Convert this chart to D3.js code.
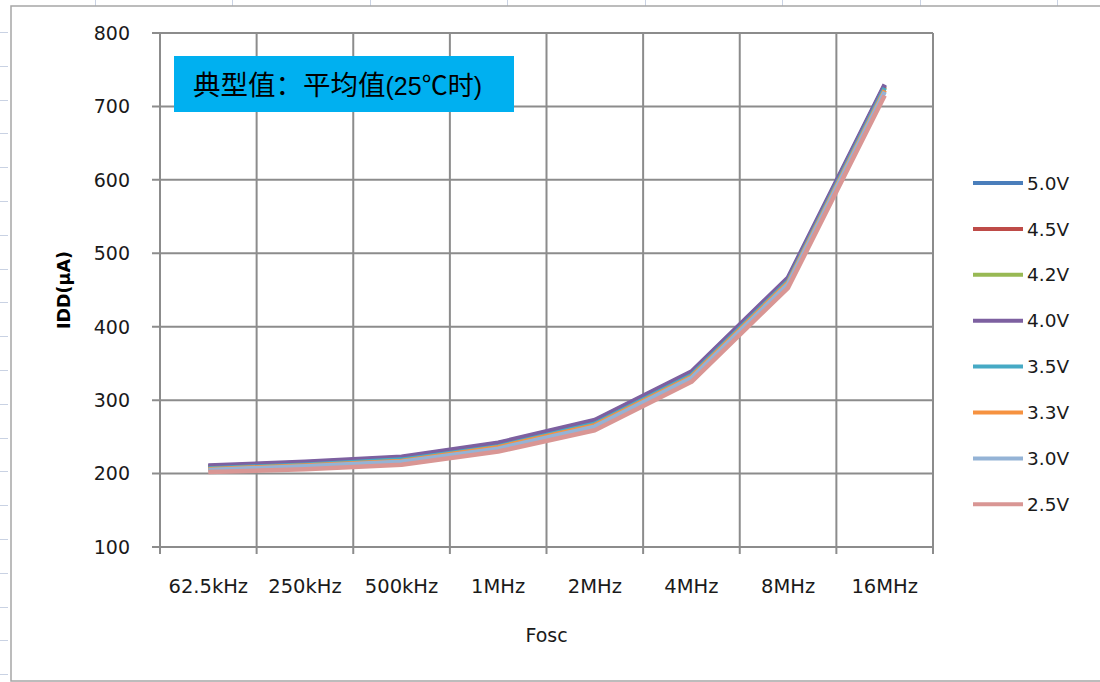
<!DOCTYPE html>
<html lang="zh">
<head>
    <meta charset="UTF-8">
    <title>IDD vs Fosc</title>
    <style>
        body { margin: 0; background: #fff; }
        text { font-family: "DejaVu Sans", Verdana, sans-serif; fill: #1a1a1a; }
    </style>
</head>
<body>
<script src="https://cdn.jsdelivr.net/npm/d3@7"></script>
<script>
    // categories and tick labels
    var categories = ['62.5kHz', '250kHz', '500kHz', '1MHz', '2MHz', '4MHz', '8MHz', '16MHz'];
    var yTicks = [100, 200, 300, 400, 500, 600, 700, 800];
    var seriesNames = ['5.0V', '4.5V', '4.2V', '4.0V', '3.5V', '3.3V', '3.0V', '2.5V'];
    var seriesColors = ['#4a7ebb', '#be4b48', '#98b954', '#7d60a0', '#46aac5', '#f69240', '#94b3d6', '#d99694'];

    // IDD (uA) per supply voltage
    var v50 = [210, 215, 222, 241, 272, 338, 466, 729];
    var v45 = [209, 214, 221, 240, 270, 336, 464, 727];
    var v42 = [208, 213, 220, 239, 269, 335, 463, 726];
    var v40 = [211, 216, 223, 242, 273, 339, 467, 730];
    var v35 = [207, 212, 219, 237, 268, 334, 462, 725];
    var v33 = [206, 211, 217, 236, 266, 332, 460, 722];
    var v30 = [205, 210, 216, 234, 264, 330, 458, 720];
    var v25 = [202, 206, 212, 230, 259, 325, 453, 715];
    var seriesValues = [v50, v45, v42, v40, v35, v33, v30, v25];

    var W = 1100, H = 682;
    var plot = {left: 160, right: 933, top: 33, bottom: 547};

    var svg = d3.select('body')
            .append('svg')
            .attr('width', W)
            .attr('height', H);

    // spreadsheet cells behind the chart
    var sheet = svg.append('g').attr('stroke', '#c9d2e3').attr('stroke-width', 1);
    [95, 232, 370, 507, 645, 782, 920, 1057].forEach(function (x) {
        sheet.append('line').attr('x1', x + 0.5).attr('x2', x + 0.5).attr('y1', 0).attr('y2', 6);
    });
    d3.range(32, H, 33.8).forEach(function (y) {
        sheet.append('line').attr('x1', 0).attr('x2', 8).attr('y1', Math.round(y) + 0.5).attr('y2', Math.round(y) + 0.5);
    });

    // chart frame
    svg.append('rect')
            .attr('x', 11).attr('y', 6)
            .attr('width', W + 20).attr('height', 675)
            .attr('fill', '#fff')
            .attr('stroke', '#a6a6a6')
            .attr('stroke-width', 1.5);

    var x = d3.scaleBand()
            .domain(categories)
            .range([plot.left, plot.right])
            .padding(0);

    var y = d3.scaleLinear()
            .domain([100, 800])
            .range([plot.bottom, plot.top]);

    var grid = svg.append('g').attr('stroke', '#8c8c8c').attr('stroke-width', 2);

    // horizontal gridlines + y ticks
    grid.selectAll('line.h')
            .data(yTicks)
            .enter()
            .append('line')
            .attr('class', 'h')
            .attr('x1', plot.left - 8)
            .attr('x2', plot.right)
            .attr('y1', function (d) { return y(d); })
            .attr('y2', function (d) { return y(d); });

    // vertical gridlines on category borders
    var borders = categories.map(function (c) { return x(c); }).concat([plot.right]);
    grid.selectAll('line.v')
            .data(borders)
            .enter()
            .append('line')
            .attr('class', 'v')
            .attr('x1', function (d) { return d; })
            .attr('x2', function (d) { return d; })
            .attr('y1', plot.top)
            .attr('y2', plot.bottom + 7);

    // y axis labels
    svg.append('g')
            .selectAll('text')
            .data(yTicks)
            .enter()
            .append('text')
            .attr('x', 130)
            .attr('y', function (d) { return y(d); })
            .attr('dy', '0.36em')
            .attr('text-anchor', 'end')
            .attr('font-size', 19)
            .text(function (d) { return d; });

    // x axis labels
    svg.append('g')
            .selectAll('text')
            .data(categories)
            .enter()
            .append('text')
            .attr('x', function (d) { return x(d) + x.bandwidth() / 2; })
            .attr('y', 593)
            .attr('text-anchor', 'middle')
            .attr('font-size', 19.5)
            .text(function (d) { return d; });

    // axis titles
    svg.append('text')
            .attr('transform', 'translate(70,' + (plot.top + plot.bottom) / 2 + ') rotate(-90)')
            .attr('text-anchor', 'middle')
            .attr('font-size', 17.5)
            .attr('font-weight', 'bold')
            .style('fill', '#000')
            .text('IDD(μA)');

    svg.append('text')
            .attr('x', (plot.left + plot.right) / 2)
            .attr('y', 642)
            .attr('text-anchor', 'middle')
            .attr('font-size', 19)
            .text('Fosc');

    // series lines
    var line = d3.line()
            .x(function (d, i) { return x(categories[i]) + x.bandwidth() / 2; })
            .y(function (d) { return y(d); });

    svg.append('g')
            .selectAll('path')
            .data(seriesValues)
            .enter()
            .append('path')
            .attr('d', line)
            .attr('fill', 'none')
            .attr('stroke', function (d, i) { return seriesColors[i]; })
            .attr('stroke-width', 4.5)
            .attr('stroke-linejoin', 'round');

    // title box
    var box = svg.append('g');
    box.append('rect')
            .attr('x', 174).attr('y', 56)
            .attr('width', 340).attr('height', 56)
            .attr('fill', '#00b0f0');
    var title = box.append('text')
            .attr('x', 193)
            .attr('y', 95)
            .style('font-family', '"Noto Sans CJK SC", sans-serif')
            .style('fill', '#000')
            .attr('font-size', 27.5);
    title.append('tspan').text('典型值：平均值');
    title.append('tspan')
            .style('font-family', '"Liberation Sans Narrow", "Liberation Sans", sans-serif')
            .attr('font-size', 25)
            .text('(25');
    title.append('tspan').attr('font-size', 26).text('℃时');
    title.append('tspan')
            .style('font-family', '"Liberation Sans Narrow", "Liberation Sans", sans-serif')
            .attr('font-size', 25)
            .text(')');

    // legend
    var legend = svg.append('g')
            .selectAll('g')
            .data(seriesNames)
            .enter()
            .append('g')
            .attr('transform', function (d, i) { return 'translate(973,' + (183 + i * 45.9) + ')'; });

    legend.append('line')
            .attr('x1', 0).attr('x2', 50)
            .attr('stroke', function (d, i) { return seriesColors[i]; })
            .attr('stroke-width', 4);

    legend.append('text')
            .attr('x', 54)
            .attr('dy', '0.36em')
            .attr('font-size', 18.5)
            .text(function (d) { return d; });
</script>
</body>
</html>
